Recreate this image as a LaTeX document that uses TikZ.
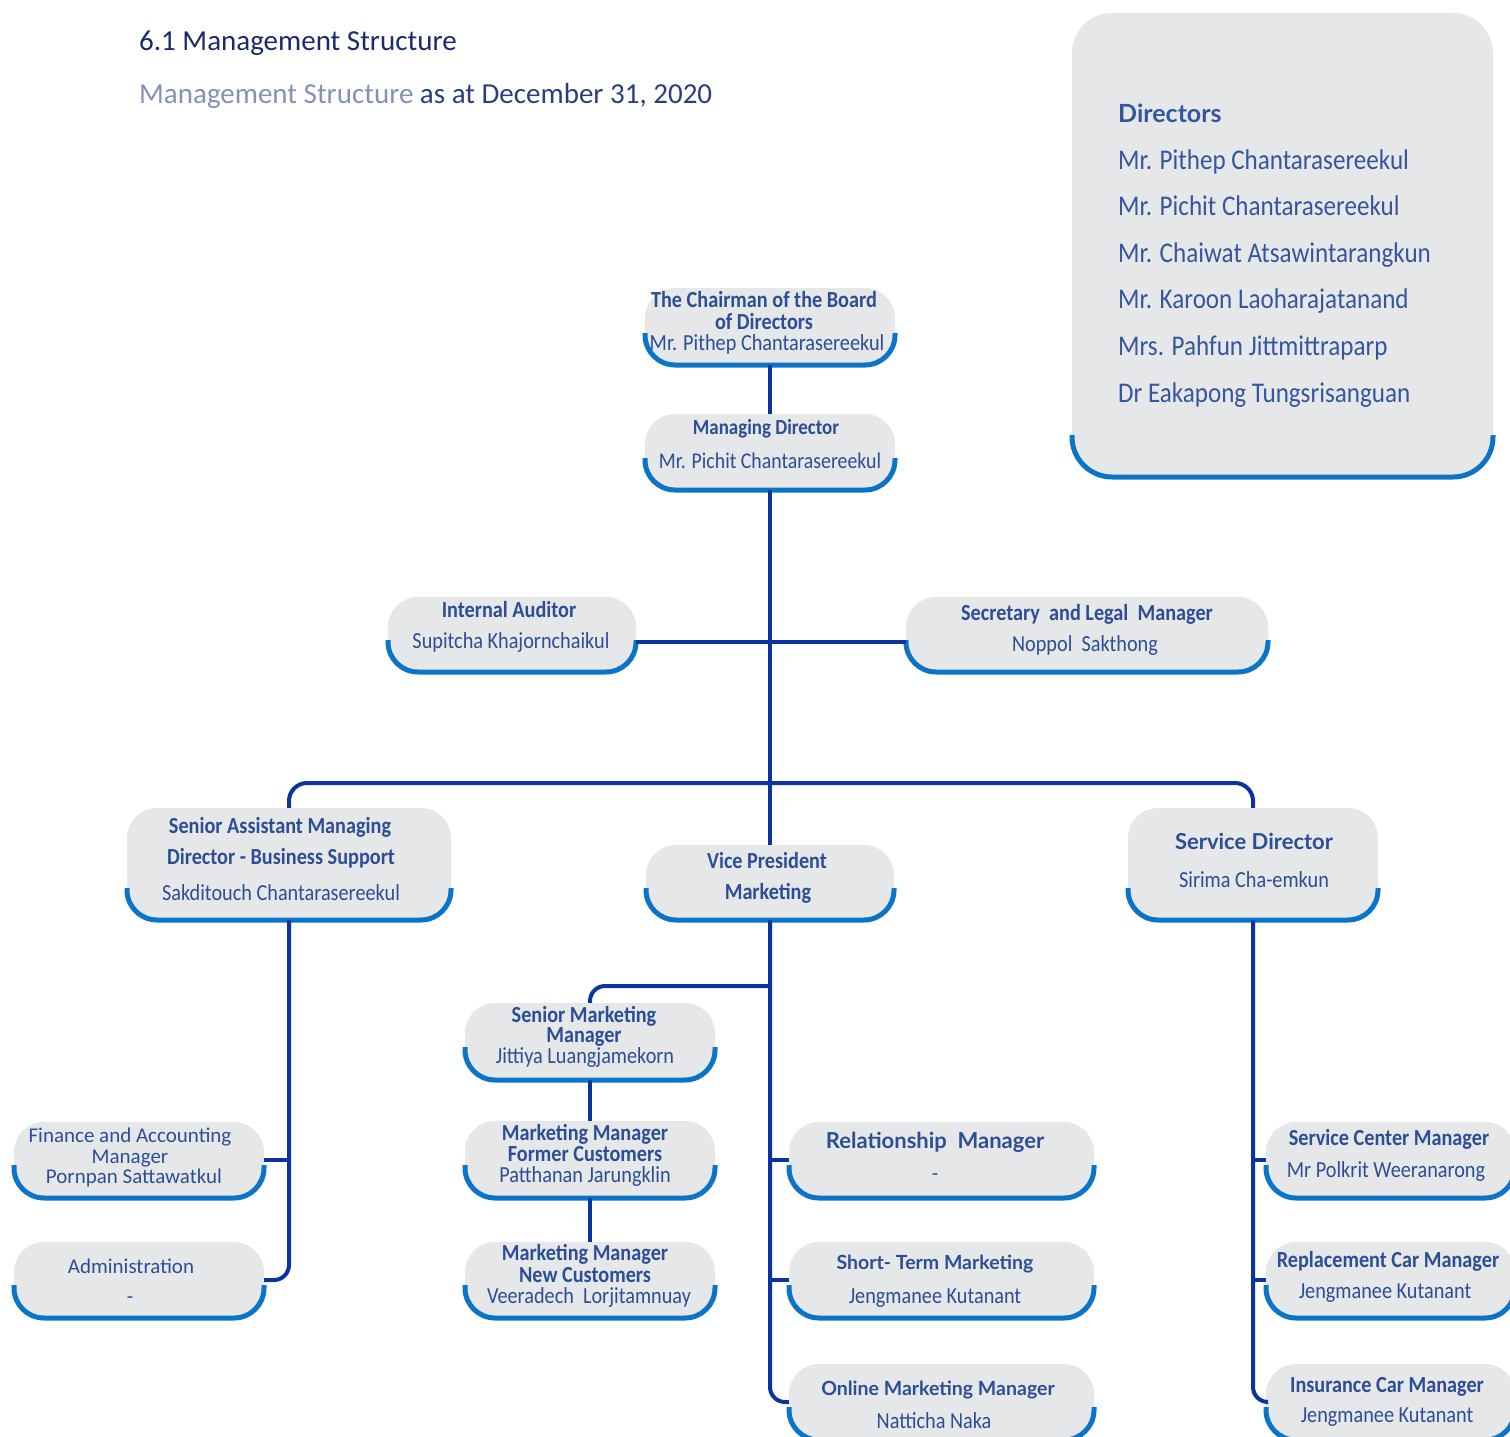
\documentclass[tikz,border=0pt]{standalone}
\usepackage{fontspec}
\setmainfont{Carlito}
\newfontfamily\cf[FakeStretch=0.88]{Carlito}
\newfontfamily\lf{Lato}
\definecolor{textblue}{HTML}{2C4E96}
\definecolor{dirblue}{HTML}{34569E}
\definecolor{titleblue}{HTML}{1A2B6D}
\definecolor{sublight}{HTML}{8391B5}
\definecolor{subdark}{HTML}{2B3D7E}
\definecolor{boxgray}{HTML}{E6E7E9}
\definecolor{baseblue}{HTML}{0A74C9}
\definecolor{connblue}{HTML}{0A35A0}
\tikzset{
  boxfill/.style={fill=boxgray, draw=none, rounded corners=#1, inner sep=0pt},
  bluebase/.style={draw=baseblue, line width=5pt, rounded corners=#1},
  conn/.style={draw=connblue, line width=4pt},
  txt/.style={text=textblue, inner sep=0pt, anchor=base},
  fCond/.style={font=\cf\fontsize{#1pt}{#1pt}\selectfont},
  fCondB/.style={font=\cf\bfseries\fontsize{#1pt}{#1pt}\selectfont},
  fReg/.style={font=\fontsize{#1pt}{#1pt}\selectfont},
  fLato/.style={font=\lf\bfseries\fontsize{#1pt}{#1pt}\selectfont},
}
% name, xl, yt, xr, yb, y of blue start, radius
\newcommand\obox[7]{%
  \node[boxfill=#7pt, minimum width={(#4-#2)*1pt}, minimum height={(#5-#3)*1pt}] (#1) at ({(#2+#4)/2},{(#3+#5)/2}) {};
  \draw[bluebase=#7pt] (#2,#6) -- (#2,#5) -- (#4,#5) -- (#4,#6);
}
% name, x, baseline, style, text
\newcommand\tl[5]{\node[txt,#4] (#1) at (#2,#3) {#5};}
\begin{document}
\begin{tikzpicture}[x=1pt,y=-1pt]
\useasboundingbox (0,0) rectangle (1510,1437);
\clip (0,0) rectangle (1510,1437);

% title
\node[anchor=base west, inner sep=0pt, text=titleblue, fReg=29] (title) at (139,51) {6.1 Management Structure};
\node[anchor=base west, inner sep=0pt, fReg=29] (subtitle) at (139,103) {\textcolor{sublight}{Management Structure} \textcolor{subdark}{as at December 31, 2020}};

% directors box
\obox{dirs}{1072}{13}{1493}{477}{435}{40}
\node[anchor=base west, inner sep=0pt, text=dirblue, fLato=25] (dirhead) at (1118,122) {Directors};
\node[anchor=base west, inner sep=0pt, text=dirblue, fCond=28.5] (dir1) at (1118,169) {Mr. Pithep Chantarasereekul};
\node[anchor=base west, inner sep=0pt, text=dirblue, fCond=28.5] (dir2) at (1118,215) {Mr. Pichit Chantarasereekul};
\node[anchor=base west, inner sep=0pt, text=dirblue, fCond=28.5] (dir3) at (1118,262) {Mr. Chaiwat Atsawintarangkun};
\node[anchor=base west, inner sep=0pt, text=dirblue, fCond=28.5] (dir4) at (1118,308) {Mr. Karoon Laoharajatanand};
\node[anchor=base west, inner sep=0pt, text=dirblue, fCond=28.5] (dir5) at (1118,355) {Mrs. Pahfun Jittmittraparp};
\node[anchor=base west, inner sep=0pt, text=dirblue, fCond=28.5] (dir6) at (1118,402) {Dr Eakapong Tungsrisanguan};

% coordinates for junctions
\coordinate (jA) at (769,642);
\coordinate (jB) at (769,783);
\coordinate (jC) at (769,986);

% boxes
\obox{chair}{645}{288}{895}{365}{333}{30}
\obox{md}{645}{414}{895}{490}{458}{30}
\obox{ia}{388}{597}{636}{672}{640}{30}
\obox{sec}{906}{597}{1268}{672}{640}{30}
\obox{sam}{127}{808}{451}{920}{888}{30}
\obox{vp}{646}{845}{894}{920}{888}{30}
\obox{sd}{1128}{808}{1378}{920}{888}{30}
\obox{fin}{14}{1122}{264}{1198}{1165}{30}
\obox{adm}{14}{1242}{264}{1318}{1285}{30}
\obox{smm}{465}{1003}{715}{1080}{1047}{30}
\obox{mmf}{465}{1121}{715}{1198}{1165}{30}
\obox{mmn}{465}{1242}{715}{1318}{1285}{30}
\obox{rel}{789}{1122}{1094}{1198}{1165}{30}
\obox{st}{789}{1242}{1094}{1318}{1285}{30}
\obox{onl}{789}{1364}{1094}{1440}{1407}{30}
\obox{scm}{1266}{1122}{1515}{1198}{1165}{30}
\obox{rcm}{1266}{1242}{1515}{1318}{1285}{30}
\obox{icm}{1266}{1364}{1515}{1440}{1407}{30}

% connectors
\draw[conn] (chair.south) -- (md.north);
\draw[conn] (md.south) -- (vp.north);
\draw[conn] (ia.east |- jA) -- (sec.west |- jA);
\draw[conn, rounded corners=18pt] (sam.north) -- (sam.north |- jB) -- (sd.north |- jB) -- (sd.north);
\draw[conn, rounded corners=15pt] (sam.south) |- (adm.east);
\draw[conn] (fin.east) -- (sam.south |- fin.east);
\draw[conn, rounded corners=15pt] (vp.south) |- (onl.west);
\draw[conn] (vp.south |- rel.west) -- (rel.west);
\draw[conn] (vp.south |- st.west) -- (st.west);
\draw[conn, rounded corners=15pt] (jC) -| (smm.north);
\draw[conn] (smm.south) -- (mmf.north);
\draw[conn] (mmf.south) -- (mmn.north);
\draw[conn, rounded corners=15pt] (sd.south) |- (icm.west);
\draw[conn] (sd.south |- scm.west) -- (scm.west);
\draw[conn] (sd.south |- rcm.west) -- (rcm.west);

% texts
\tl{chairT1}{764}{307}{fCondB=23}{The Chairman of the Board}
\tl{chairT2}{764}{329}{fCondB=23}{of Directors}
\tl{chairT3}{767}{350}{fCond=23}{Mr. Pithep Chantarasereekul}

\tl{mdT1}{766}{434}{fCondB=21.5}{Managing Director}
\tl{mdT2}{770}{468}{fCond=22.5}{Mr. Pichit Chantarasereekul}

\tl{iaT1}{509}{617}{fCondB=23}{Internal Auditor}
\tl{iaT2}{511}{648}{fCond=23}{Supitcha Khajornchaikul}

\tl{secT1}{1087}{620}{fCondB=23}{Secretary\ \ and Legal\ \ Manager}
\tl{secT2}{1085}{651}{fCond=23}{Noppol\ \ Sakthong}

\tl{samT1}{280}{833}{fCondB=23}{Senior Assistant Managing}
\tl{samT2}{281}{864}{fCondB=23}{Director - Business Support}
\tl{samT3}{281}{900}{fCond=23}{Sakditouch Chantarasereekul}

\tl{vpT1}{767}{868}{fCondB=23}{Vice President}
\tl{vpT2}{768}{899}{fCondB=23}{Marketing}

\tl{sdT1}{1254}{849}{fLato=22}{Service Director}
\tl{sdT2}{1254}{887}{fCond=23}{Sirima Cha-emkun}

\tl{finT1}{130}{1142}{fReg=21}{Finance and Accounting}
\tl{finT2}{130}{1163}{fReg=21}{Manager}
\tl{finT3}{134}{1183}{fReg=21}{Pornpan Sattawatkul}

\tl{admT1}{131}{1273}{fReg=21}{Administration}
\tl{admT2}{130}{1303}{fReg=21}{-}

\tl{smmT1}{584}{1022}{fCondB=23}{Senior Marketing}
\tl{smmT2}{584}{1042}{fCondB=23}{Manager}
\tl{smmT3}{585}{1063}{fCond=23}{Jittiya Luangjamekorn}

\tl{mmfT1}{585}{1140}{fCondB=23}{Marketing Manager}
\tl{mmfT2}{585}{1161}{fCondB=23}{Former Customers}
\tl{mmfT3}{585}{1182}{fCond=23}{Patthanan Jarungklin}

\tl{mmnT1}{585}{1260}{fCondB=23}{Marketing Manager}
\tl{mmnT2}{585}{1282}{fCondB=23}{New Customers}
\tl{mmnT3}{589}{1303}{fCond=23}{Veeradech\ \ Lorjitamnuay}

\tl{relT1}{935}{1148}{fLato=22}{Relationship\ \ Manager}
\tl{relT2}{935}{1180}{fReg=21}{-}

\tl{stT1}{935}{1269}{fLato=19.5}{Short- Term Marketing}
\tl{stT2}{935}{1303}{fCond=23}{Jengmanee Kutanant}

\tl{onlT1}{938}{1395}{fLato=19.5}{Online Marketing Manager}
\tl{onlT2}{934}{1428}{fCond=23}{Natticha Naka}

\tl{scmT1}{1389}{1145}{fCondB=23}{Service Center Manager}
\tl{scmT2}{1386}{1177}{fCond=23}{Mr Polkrit Weeranarong}

\tl{rcmT1}{1388}{1267}{fCondB=23}{Replacement Car Manager}
\tl{rcmT2}{1385}{1298}{fCond=23}{Jengmanee Kutanant}

\tl{icmT1}{1387}{1392}{fCondB=23}{Insurance Car Manager}
\tl{icmT2}{1387}{1422}{fCond=23}{Jengmanee Kutanant}
\end{tikzpicture}
\end{document}
